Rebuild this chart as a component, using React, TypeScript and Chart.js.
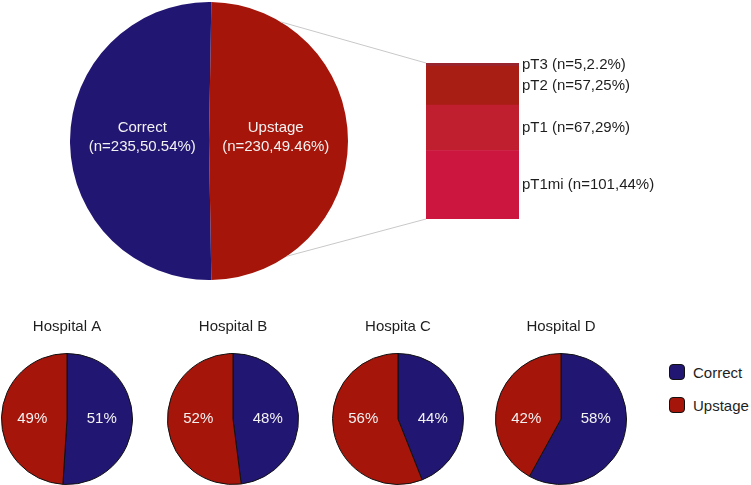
import React, { useEffect, useRef } from "react";
import { Chart, registerables } from "chart.js";

Chart.register(...registerables);

// ---- Data ----
const mainCategories = ["Upstage", "Correct"];
const mainCounts = [230, 235];
const mainPercents = ["49.46%", "50.54%"];

const stageCategories = ["pT1mi", "pT1", "pT2", "pT3"];
const stageCounts = [101, 67, 57, 5];
const stagePercents = ["44%", "29%", "25%", "2.2%"];

const hospitals = ["Hospital A", "Hospital B", "Hospita C", "Hospital D"];
const hospitalCorrect = [51, 48, 44, 58];
const hospitalUpstage = [49, 52, 56, 42];

const legendLabels = ["Correct", "Upstage"];

// ---- Styles ----
const FONT = "'Liberation Sans', Arial, sans-serif";
const NAVY = "#221673";
const RED = "#a6150a";
const STAGE_COLORS = ["#cc163f", "#c01f2f", "#a81e15", "#98242e"];
const TEXT = "#1e1e1e";
const INNER_TEXT = "#f2f2f2";

const PIE_BOX = { left: 70, top: 2, size: 278 };
const BAR_BOX = { left: 270, top: 0, width: 481, height: 290 };
const SMALL_CENTERS = [67, 233, 398, 561];
const SMALL_W = 132;
const SMALL_TOP = 312;
const SMALL_H = 173;

export default function App() {
  const pieRef = useRef<HTMLCanvasElement | null>(null);
  const barRef = useRef<HTMLCanvasElement | null>(null);
  const smallRefs = useRef<(HTMLCanvasElement | null)[]>([]);

  useEffect(() => {
    const charts: Chart[] = [];

    // Big pie
    const bigLabelPlugin = {
      id: "bigLabels",
      afterDatasetsDraw(chart: any) {
        const ctx = chart.ctx;
        const meta = chart.getDatasetMeta(0);
        ctx.save();
        ctx.font = `15px ${FONT}`;
        ctx.fillStyle = INNER_TEXT;
        ctx.textAlign = "center";
        ctx.textBaseline = "middle";
        meta.data.forEach((arc: any, i: number) => {
          const p = arc.getProps(["x", "y", "startAngle", "endAngle", "outerRadius"], true);
          const mid = (p.startAngle + p.endAngle) / 2;
          const r = p.outerRadius * 0.48;
          const x = p.x + Math.cos(mid) * r;
          const y = p.y + Math.sin(mid) * r;
          ctx.fillText(mainCategories[i], x, y - 13);
          ctx.fillText(`(n=${mainCounts[i]},${mainPercents[i]})`, x, y + 6);
        });
        ctx.restore();
      },
    };

    const total = mainCounts[0] + mainCounts[1];
    const firstShare = mainCounts[0] / total;

    const pieChart = new Chart(pieRef.current as HTMLCanvasElement, {
      type: "pie",
      data: {
        labels: mainCategories,
        datasets: [
          {
            data: mainCounts,
            backgroundColor: [RED, NAVY],
            borderWidth: 0,
          },
        ],
      },
      options: {
        responsive: false,
        animation: false,
        rotation: (0.5 - firstShare) * 180,
        plugins: { legend: { display: false }, tooltip: { enabled: false } },
      },
      plugins: [bigLabelPlugin],
    });
    charts.push(pieChart);

    // Stacked bar ("pie of bar")
    const barLabelPlugin = {
      id: "barLabels",
      afterDatasetsDraw(chart: any) {
        const ctx = chart.ctx;
        const area = chart.chartArea;
        ctx.save();
        // connector lines
        const pm = pieChart.getDatasetMeta(0).data[0] as any;
        const pp = pm.getProps(["x", "y", "outerRadius"], true);
        const cx = pp.x + PIE_BOX.left - BAR_BOX.left;
        const cy = pp.y + PIE_BOX.top - BAR_BOX.top;
        const R = pp.outerRadius;
        const a1 = (-59 * Math.PI) / 180;
        const a2 = (56 * Math.PI) / 180;
        ctx.strokeStyle = "#c8c8c8";
        ctx.lineWidth = 1;
        ctx.beginPath();
        ctx.moveTo(cx + Math.cos(a1) * R, cy + Math.sin(a1) * R);
        ctx.lineTo(area.left, area.top);
        ctx.moveTo(cx + Math.cos(a2) * R, cy + Math.sin(a2) * R);
        ctx.lineTo(area.left, area.bottom);
        ctx.stroke();
        // labels
        ctx.font = `15px ${FONT}`;
        ctx.fillStyle = TEXT;
        ctx.textAlign = "left";
        ctx.textBaseline = "middle";
        chart.data.datasets.forEach((ds: any, i: number) => {
          const bar = chart.getDatasetMeta(i).data[0] as any;
          const b = bar.getProps(["y", "base"], true);
          const y = (b.y + b.base) / 2;
          ctx.fillText(`${stageCategories[i]} (n=${stageCounts[i]},${stagePercents[i]})`, area.right + 3, y);
        });
        ctx.restore();
      },
    };

    const barChart = new Chart(barRef.current as HTMLCanvasElement, {
      type: "bar",
      data: {
        labels: [""],
        datasets: stageCategories.map((c, i) => ({
          label: c,
          data: [stageCounts[i]],
          backgroundColor: STAGE_COLORS[i],
          borderWidth: 0,
          barPercentage: 1,
          categoryPercentage: 1,
        })),
      },
      options: {
        responsive: false,
        animation: false,
        layout: { padding: { left: 156, right: 232, top: 63, bottom: 71 } },
        scales: {
          x: { stacked: true, display: false },
          y: { stacked: true, display: false, min: 0, max: 230 },
        },
        plugins: { legend: { display: false }, tooltip: { enabled: false } },
      },
      plugins: [barLabelPlugin],
    });
    charts.push(barChart);

    // Small pies
    hospitals.forEach((h, hi) => {
      const values = [hospitalCorrect[hi], hospitalUpstage[hi]];
      const pctPlugin = {
        id: "pct" + hi,
        afterDatasetsDraw(chart: any) {
          const ctx = chart.ctx;
          const meta = chart.getDatasetMeta(0);
          ctx.save();
          ctx.font = `15px ${FONT}`;
          ctx.fillStyle = INNER_TEXT;
          ctx.textAlign = "center";
          ctx.textBaseline = "middle";
          meta.data.forEach((arc: any, i: number) => {
            const p = arc.getProps(["x", "y", "startAngle", "endAngle", "outerRadius"], true);
            const mid = (p.startAngle + p.endAngle) / 2;
            const side = Math.cos(mid) >= 0 ? 1 : -1;
            const r = p.outerRadius * 0.53;
            ctx.fillText(`${values[i]}%`, p.x + side * r, p.y);
          });
          ctx.restore();
        },
      };
      const c = new Chart(smallRefs.current[hi] as HTMLCanvasElement, {
        type: "pie",
        data: {
          labels: legendLabels,
          datasets: [
            {
              data: values,
              backgroundColor: [NAVY, RED],
              borderColor: "#111111",
              borderWidth: 1,
            },
          ],
        },
        options: {
          responsive: false,
          animation: false,
          plugins: {
            legend: { display: false },
            tooltip: { enabled: false },
            title: {
              display: true,
              text: h,
              color: TEXT,
              font: { family: FONT, size: 15, weight: "normal" },
              padding: { top: 6, bottom: 17 },
            },
          },
        },
        plugins: [pctPlugin],
      });
      charts.push(c);
    });

    return () => charts.forEach((c) => c.destroy());
  }, []);

  return (
    <div style={{ position: "absolute", left: 0, top: 0, width: 751, height: 485, background: "#fff", fontFamily: FONT, overflow: "hidden" }}>
      <canvas
        ref={pieRef}
        width={PIE_BOX.size}
        height={PIE_BOX.size}
        style={{ position: "absolute", left: PIE_BOX.left, top: PIE_BOX.top, width: PIE_BOX.size, height: PIE_BOX.size }}
      />
      <canvas
        ref={barRef}
        width={BAR_BOX.width}
        height={BAR_BOX.height}
        style={{ position: "absolute", left: BAR_BOX.left, top: BAR_BOX.top, width: BAR_BOX.width, height: BAR_BOX.height }}
      />
      {hospitals.map((h, i) => (
        <canvas
          key={h}
          ref={(el) => {
            smallRefs.current[i] = el;
          }}
          width={SMALL_W}
          height={SMALL_H}
          style={{ position: "absolute", left: SMALL_CENTERS[i] - SMALL_W / 2, top: SMALL_TOP, width: SMALL_W, height: SMALL_H }}
        />
      ))}
      {legendLabels.map((l, i) => (
        <div key={l} style={{ position: "absolute", left: 669, top: 363 + i * 33, display: "flex", alignItems: "center", height: 18 }}>
          <div
            style={{
              width: 14,
              height: 14,
              border: "1.5px solid #111",
              borderRadius: 4,
              background: i === 0 ? NAVY : RED,
            }}
          />
          <span style={{ marginLeft: 8, fontSize: 15, color: TEXT }}>{l}</span>
        </div>
      ))}
    </div>
  );
}
